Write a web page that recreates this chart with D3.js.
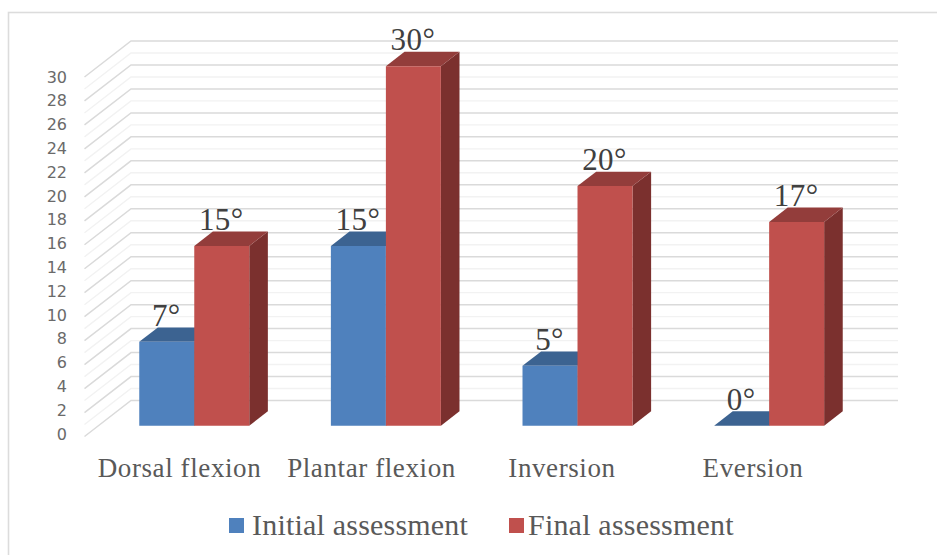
<!DOCTYPE html>
<html>
<head>
<meta charset="utf-8">
<script src="https://cdn.jsdelivr.net/npm/d3@7"></script>
<style>
html, body { margin: 0; padding: 0; background: #fff; overflow: hidden; }
svg { display: block; }
</style>
</head>
<body>
<svg id="chart" width="937" height="555"></svg>
<script>
const categories = ["Dorsal flexion", "Plantar flexion", "Inversion", "Eversion"];
const seriesNames = ["Initial assessment", "Final assessment"];
const initialValues = [7, 15, 5, 0];
const finalValues = [15, 30, 20, 17];
const tickValues = d3.range(0, 31, 2);
const minorValues = d3.range(1, 31, 2);

const frontColors = ["#4f81bd", "#c0504d"];
const topColors = ["#3c6391", "#933d3b"];
const sideColors = ["#2f4f74", "#7b302e"];

const svg = d3.select("#chart");

// Oblique projection: depth 0 is the front plane, depth 1 the back wall.
const wallDepth = { x: 46.5, y: -36 };
const project = (x, y, depth) => [x + wallDepth.x * depth, y + wallDepth.y * depth];

const y = d3.scaleLinear().domain([0, 30]).range([436.5, 77]);
const labelY = d3.scaleLinear().domain([0, 30]).range([434, 77]);
const x0 = d3.scaleBand().domain(categories).range([84.5, 851]);
const x1 = d3.scaleBand().domain([0, 1]).range([0, x0.bandwidth()]).paddingInner(0).paddingOuter(0.742);

const frontDepth = 0.3;
const backDepth = 0.7;
const line = d3.line();

// Frame: only its top and left edges fall inside the canvas
svg.append("rect")
  .attr("x", 8.5).attr("y", 12.5)
  .attr("width", 1000).attr("height", 600)
  .attr("fill", "#fff").attr("stroke", "#dcdcdc").attr("stroke-width", 1.6);

// Wall and floor gridlines, minor ones fainter
function drawGrid(values, color, width) {
  svg.append("g").selectAll("path").data(values).join("path")
    .attr("d", v => line([
      project(x0.range()[0], y(v), 0),
      project(x0.range()[0], y(v), 1),
      project(x0.range()[1] + 0.5, y(v), 1)
    ]))
    .attr("fill", "none").attr("stroke", color).attr("stroke-width", width);
}
drawGrid(minorValues, "#f2f2f2", 1.4);
drawGrid(tickValues, "#dadada", 1.5);

// Value axis labels
const axis = d3.axisLeft(labelY).tickValues(tickValues).tickSize(0).tickPadding(0);
const axisG = svg.append("g").attr("transform", "translate(67,0)").call(axis);
axisG.select(".domain").remove();
axisG.selectAll("text")
  .attr("font-family", "'DejaVu Sans', sans-serif")
  .attr("font-size", 16).attr("fill", "#6a6a6a");

// Category labels
const categoryCenters = [179.5, 371.5, 562, 753];
svg.append("g").selectAll("text").data(categories).join("text")
  .attr("x", (d, i) => categoryCenters[i])
  .attr("y", 477)
  .attr("text-anchor", "middle")
  .attr("font-family", "'Liberation Serif', serif")
  .attr("font-size", 27).attr("letter-spacing", 0.6).attr("fill", "#595959")
  .text(d => d);

// 3D bars: top, side and front faces for each value
const rows = categories.flatMap((c, i) => [
  { category: c, series: 0, value: initialValues[i] },
  { category: c, series: 1, value: finalValues[i] }
]);

const bar = svg.append("g").selectAll("g").data(rows).join("g");

const poly = (pts) => line(pts) + "Z";
const corners = d => {
  const xl = x0(d.category) + x1(d.series);
  const xr = xl + x1.bandwidth();
  return { xl, xr, yT: y(d.value), yB: y(0) };
};

bar.append("path")
  .attr("fill", d => sideColors[d.series])
  .attr("d", d => {
    const c = corners(d);
    return poly([
      project(c.xr, c.yT, frontDepth), project(c.xr, c.yT, backDepth),
      project(c.xr, c.yB, backDepth), project(c.xr, c.yB, frontDepth)
    ]);
  });
bar.append("path")
  .attr("fill", d => topColors[d.series])
  .attr("d", d => {
    const c = corners(d);
    return poly([
      project(c.xl, c.yT, frontDepth), project(c.xl, c.yT, backDepth),
      project(c.xr, c.yT, backDepth), project(c.xr, c.yT, frontDepth)
    ]);
  });
bar.append("path")
  .attr("fill", d => frontColors[d.series])
  .attr("d", d => {
    const c = corners(d);
    return poly([
      project(c.xl, c.yT, frontDepth), project(c.xr, c.yT, frontDepth),
      project(c.xr, c.yB, frontDepth), project(c.xl, c.yB, frontDepth)
    ]);
  });

// Value labels sit above each bar's top face
svg.append("g").selectAll("text").data(rows).join("text")
  .attr("x", d => project(x0(d.category) + x1(d.series) + x1.bandwidth() / 2, 0, frontDepth)[0] - 0.5)
  .attr("y", d => project(0, y(d.value), backDepth)[1] - 1.5)
  .attr("text-anchor", "middle")
  .attr("font-family", "'Liberation Serif', serif")
  .attr("font-size", 31).attr("letter-spacing", 0.4).attr("fill", "#404040")
  .text(d => d.value + "°");

// Legend
const legendItems = [
  { name: seriesNames[0], sx: 229, tx: 252 },
  { name: seriesNames[1], sx: 509, tx: 528 }
];
const legend = svg.append("g").selectAll("g").data(legendItems).join("g");
legend.append("rect")
  .attr("x", d => d.sx).attr("y", 518).attr("width", 15).attr("height", 15)
  .attr("fill", (d, i) => frontColors[i]);
legend.append("text")
  .attr("x", d => d.tx).attr("y", 535)
  .attr("font-family", "'Liberation Serif', serif")
  .attr("font-size", 30).attr("letter-spacing", 0.2).attr("fill", "#595959")
  .text(d => d.name);
</script>
</body>
</html>
